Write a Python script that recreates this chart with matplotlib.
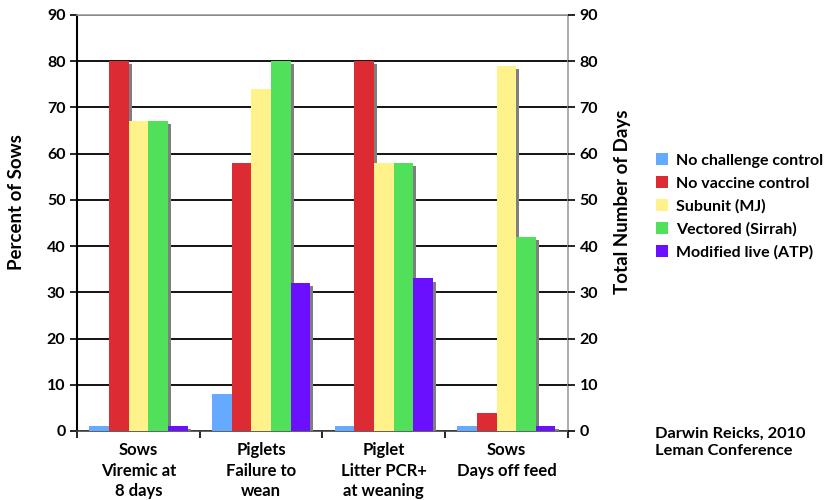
import matplotlib.pyplot as plt
import matplotlib.patheffects as pe
import numpy as np

plt.rcParams['font.family'] = ['Lato', 'DejaVu Sans']

# 数据
categories = ["Sows\nViremic at\n8 days", "Piglets\nFailure to\nwean",
              "Piglet\nLitter PCR+\nat weaning", "Sows\nDays off feed"]
series = ["No challenge control", "No vaccine control", "Subunit (MJ)",
          "Vectored (Sirrah)", "Modified live (ATP)"]
no_challenge = [1, 8, 1, 1]
no_vaccine = [80, 58, 80, 4]
subunit = [67, 74, 58, 79]
vectored = [67, 80, 58, 42]
modified_live = [1, 32, 33, 1]
colors = ['#66AAFF', '#DD2B33', '#FFF28A', '#50E05A', '#6A10FF']

values = [no_challenge, no_vaccine, subunit, vectored, modified_live]

fig = plt.figure(figsize=(8.3, 5), dpi=100)
ax = fig.add_axes([0.093, 0.138, 0.591, 0.832])

x = np.arange(len(categories))
w = 0.16
shadow = [pe.SimplePatchShadow(offset=(2.2, -2.2), shadow_rgbFace='#7f7f7f', alpha=1.0), pe.Normal()]
for k, (name, vals) in enumerate(zip(series, values)):
    ax.bar(x + (k - 2) * w, vals, w, color=colors[k], label=name,
           path_effects=shadow, zorder=3)

ax.set_xlim(-0.5, 3.5)
ax.set_ylim(0, 90)
ax.set_yticks(range(0, 91, 10))
ax.yaxis.grid(True, color='black', linewidth=1.3, zorder=0)
ax.set_axisbelow(True)

# x轴刻度: 组边界画刻度, 组中心放标签
ax.set_xticks(np.arange(-0.5, 4, 1))
ax.set_xticklabels([])
ax.set_xticks(x, minor=True)
ax.set_xticklabels(categories, minor=True, fontsize=12, fontweight='bold', linespacing=1.35)
ax.tick_params(axis='x', which='minor', length=0, pad=8)
ax.tick_params(axis='x', which='major', length=5, width=1.2, color='black')
ax.tick_params(axis='y', length=5, width=1.2, labelsize=11.5)
for t in ax.get_yticklabels():
    t.set_fontweight('bold')

ax.spines['left'].set_color('black')
ax.spines['left'].set_linewidth(1.5)
ax.spines['bottom'].set_color('#444444')
ax.spines['bottom'].set_linewidth(1.2)
ax.spines['top'].set_color('#a0a0a0')
ax.spines['top'].set_linewidth(1.2)
ax.spines['right'].set_color('#a0a0a0')
ax.spines['right'].set_linewidth(1.2)
ax.set_ylabel("Percent of Sows", fontsize=13.5, fontweight='bold')
ax.yaxis.set_label_coords(-0.106, 0.55)

ax2 = ax.twinx()
ax2.set_ylim(0, 90)
ax2.set_yticks(range(0, 91, 10))
ax2.tick_params(axis='y', length=5, width=1.2, labelsize=11.5)
for t in ax2.get_yticklabels():
    t.set_fontweight('bold')
for s in ax2.spines.values():
    s.set_visible(False)
ax2.set_ylabel("Total Number of Days", fontsize=13.5, fontweight='bold')
ax2.yaxis.set_label_coords(1.094, 0.55)

leg = ax.legend(loc='center left', bbox_to_anchor=(1.15, 0.54), frameon=False,
                prop={'size': 11.5, 'weight': 'bold'}, handlelength=0.8, handleheight=0.8,
                handletextpad=0.5, labelspacing=0.52)
for h in leg.legend_handles:
    h.set_path_effects([])

fig.text(0.789, 0.115, "Darwin Reicks, 2010\nLeman Conference", fontsize=11.8,
         fontweight='bold', va='center', linespacing=1.25)

plt.savefig('out.png')
